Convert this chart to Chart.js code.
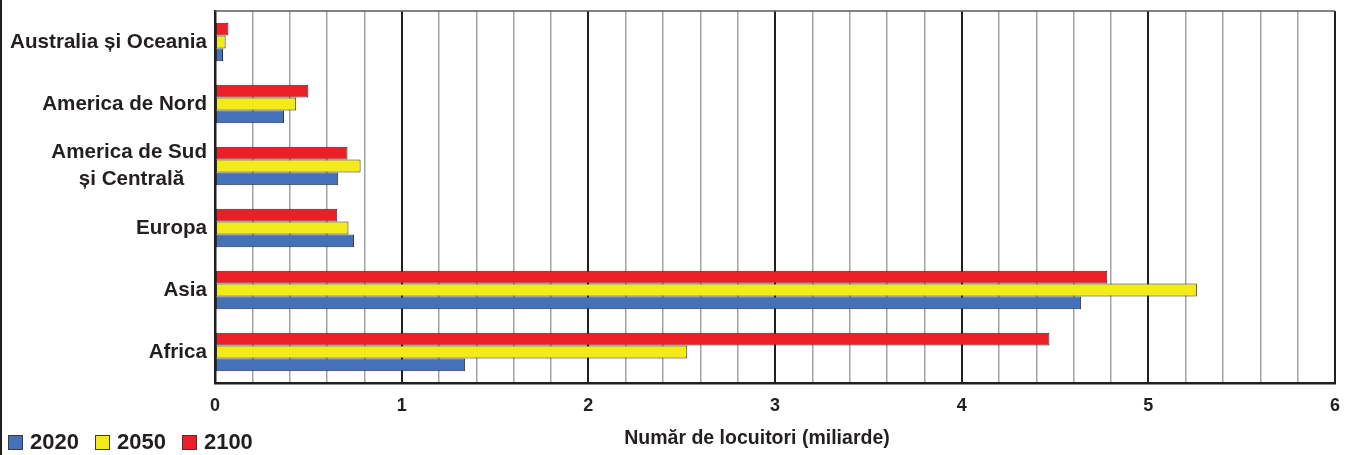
<!DOCTYPE html>
<html lang="ro">
  <head>
    <meta charset="UTF-8" />
    <title>Populație pe continente</title>
    <script src="https://cdn.jsdelivr.net/npm/chart.js"></script>
    <style>
      html,
      body {
        margin: 0;
        padding: 0;
        background: #fff;
        font-family: "Liberation Sans", Arial, sans-serif;
      }
      #wrap {
        position: relative;
        width: 1354px;
        height: 455px;
      }
      #frame-left {
        position: absolute;
        left: 0;
        top: 0;
        width: 2px;
        height: 455px;
        background: #231f20;
      }
      #legend {
        position: absolute;
        left: 8px;
        top: 430px;
        display: flex;
        font-weight: bold;
        font-size: 22px;
        color: #231f20;
        line-height: 24px;
      }
      .item {
        display: flex;
        align-items: center;
        margin-right: 16px;
      }
      .box {
        width: 13px;
        height: 13px;
        border: 1px solid #3a3a3a;
        margin-right: 7px;
      }
      #xtitle {
        position: absolute;
        left: 557px;
        width: 400px;
        top: 425px;
        text-align: center;
        font-weight: bold;
        font-size: 19.5px;
        line-height: 24px;
        color: #231f20;
      }
    </style>
  </head>
  <body>
    <div id="wrap">
      <canvas id="chart" width="1354" height="455"></canvas>
      <div id="frame-left"></div>
      <div id="legend"></div>
      <div id="xtitle">Număr de locuitori (miliarde)</div>
    </div>
    <script>
      const regions = [
        "Australia și Oceania",
        "America de Nord",
        ["America de Sud", "și Centrală\u00a0\u00a0\u00a0\u00a0"],
        "Europa",
        "Asia",
        "Africa",
      ];
      const pop2020 = [0.043, 0.37, 0.66, 0.745, 4.64, 1.34];
      const pop2050 = [0.057, 0.435, 0.78, 0.715, 5.26, 2.53];
      const pop2100 = [0.072, 0.5, 0.71, 0.655, 4.78, 4.47];
      const xTicks = [0, 1, 2, 3, 4, 5, 6];

      const ink = "#231f20";
      const series = [
        { label: "2020", data: pop2020, color: "#4571b9" },
        { label: "2050", data: pop2050, color: "#f2ea19" },
        { label: "2100", data: pop2100, color: "#ec1f26" },
      ];

      // html legend, in 2020 -> 2100 order
      const legend = document.getElementById("legend");
      series.forEach((s) => {
        const item = document.createElement("div");
        item.className = "item";
        item.innerHTML = `<span class="box" style="background:${s.color}"></span>${s.label}`;
        legend.appendChild(item);
      });

      const isMajor = (v) => Math.abs(v - Math.round(v)) < 1e-6;

      const topLine = {
        id: "topLine",
        afterDraw(chart) {
          const { ctx, chartArea } = chart;
          ctx.save();
          ctx.strokeStyle = "#58595b";
          ctx.lineWidth = 1.5;
          ctx.beginPath();
          ctx.moveTo(chartArea.left, chartArea.top);
          ctx.lineTo(chartArea.right, chartArea.top);
          ctx.stroke();
          ctx.restore();
        },
      };

      new Chart(document.getElementById("chart"), {
        type: "bar",
        data: {
          labels: regions,
          // 2100 on top of each group, 2020 at the bottom
          datasets: series
            .slice()
            .reverse()
            .map((s) => ({
              label: s.label,
              data: s.data,
              backgroundColor: s.color,
              borderColor: "#2e2e2e",
              borderWidth: 1,
              borderSkipped: false,
              barPercentage: 1,
              categoryPercentage: 0.62,
            })),
        },
        options: {
          indexAxis: "y",
          responsive: false,
          animation: false,
          layout: { padding: { top: 11, right: 19, left: 0, bottom: 0 } },
          plugins: {
            legend: { display: false },
            tooltip: { enabled: false },
          },
          scales: {
            x: {
              min: 0,
              max: 6,
              afterFit: (s) => {
                s.height = 72;
                s.paddingLeft = 0;
                s.paddingRight = 0;
              },
              ticks: {
                stepSize: 0.2,
                autoSkip: false,
                maxRotation: 0,
                padding: 12,
                color: ink,
                font: { size: 18, weight: "bold" },
                callback: (v) => (isMajor(v) && xTicks.includes(Math.round(v)) ? Math.round(v) : ""),
              },
              grid: {
                drawTicks: false,
                color: (c) => (isMajor(c.tick.value) ? ink : "#a0a2a5"),
                lineWidth: (c) => (isMajor(c.tick.value) ? 2 : 1.5),
              },
              border: { color: ink, width: 2.5 },
            },
            y: {
              afterFit: (s) => {
                s.width = 215;
                s.paddingTop = 0;
                s.paddingBottom = 0;
              },
              ticks: {
                padding: 8,
                color: ink,
                font: { size: 20.6, weight: "bold", lineHeight: 1.3 },
              },
              grid: { display: false, drawTicks: false },
              border: { color: ink, width: 2.5 },
            },
          },
        },
        plugins: [topLine],
      });
    </script>
  </body>
</html>
